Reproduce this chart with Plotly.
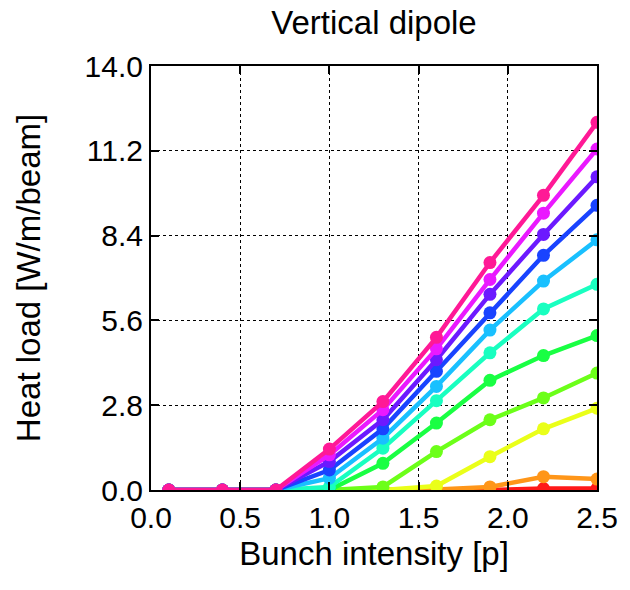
import colorsys
import plotly.graph_objects as go

x_vals = [0.1, 0.4, 0.7, 1.0, 1.3, 1.6, 1.9, 2.2, 2.5]

series = [
    [0, 0, 0, 0, 0, 0, 0, 0.05, 0.05],
    [0, 0, 0, 0, 0, 0.02, 0.10, 0.44, 0.36],
    [0, 0, 0, 0, 0, 0.13, 1.10, 2.02, 2.70],
    [0, 0, 0, 0, 0.10, 1.27, 2.32, 3.04, 3.86],
    [0, 0, 0, 0, 0.88, 2.21, 3.62, 4.44, 5.10],
    [0, 0, 0, 0.10, 1.38, 2.95, 4.53, 5.98, 6.79],
    [0, 0, 0, 0.39, 1.71, 3.42, 5.28, 6.90, 8.26],
    [0, 0, 0, 0.66, 2.02, 3.92, 5.85, 7.75, 9.40],
    [0, 0, 0, 0.94, 2.32, 4.30, 6.46, 8.44, 10.34],
    [0, 0, 0, 1.16, 2.65, 4.66, 6.95, 9.14, 11.26],
    [0, 0, 0, 1.35, 2.92, 5.04, 7.51, 9.73, 12.14],
]

y_ticks = [0.0, 2.8, 5.6, 8.4, 11.2, 14.0]
x_ticks = [0.0, 0.5, 1.0, 1.5, 2.0, 2.5]

FONT = "Liberation Sans, Arial, sans-serif"

n = len(series)
fig = go.Figure()
for i, ys in enumerate(series):
    r, g, b = colorsys.hsv_to_rgb(i / n, 0.9, 1.0)
    col = f"rgb({int(r*255)},{int(g*255)},{int(b*255)})"
    fig.add_trace(go.Scatter(
        x=x_vals, y=ys, mode="lines+markers",
        line=dict(color=col, width=4.5),
        marker=dict(color=col, size=13),
        showlegend=False,
    ))

axis_common = dict(
    showline=True, linecolor="black", linewidth=2, mirror="ticks",
    ticks="inside", ticklen=8, tickwidth=1.5, tickcolor="black",
    showgrid=True, gridcolor="black", gridwidth=1, griddash="dot",
    zeroline=False,
    tickfont=dict(family=FONT, size=30, color="black"),
)

fig.update_layout(
    width=630, height=590,
    paper_bgcolor="white", plot_bgcolor="white",
    margin=dict(l=151, r=33, t=66, b=100),
    title=dict(text="Vertical dipole", x=0.5, xref="paper", xanchor="center",
               y=0.962, yanchor="middle",
               font=dict(family=FONT, size=33, color="black")),
    xaxis=dict(range=[0, 2.5], tickvals=x_ticks, ticktext=[f"{v:.1f}" for v in x_ticks],
               title=dict(text="Bunch intensity [p]", standoff=9,
                          font=dict(family=FONT, size=33, color="black")),
               **axis_common),
    yaxis=dict(range=[0, 14], tickvals=y_ticks, ticktext=[f"{v:.1f}" for v in y_ticks],
               title=dict(text="Heat load [W/m/beam]", standoff=34,
                          font=dict(family=FONT, size=33, color="black")),
               **axis_common),
)

fig.write_html("out.html", config={"displayModeBar": False},
               post_script="document.body.style.margin='0';")
